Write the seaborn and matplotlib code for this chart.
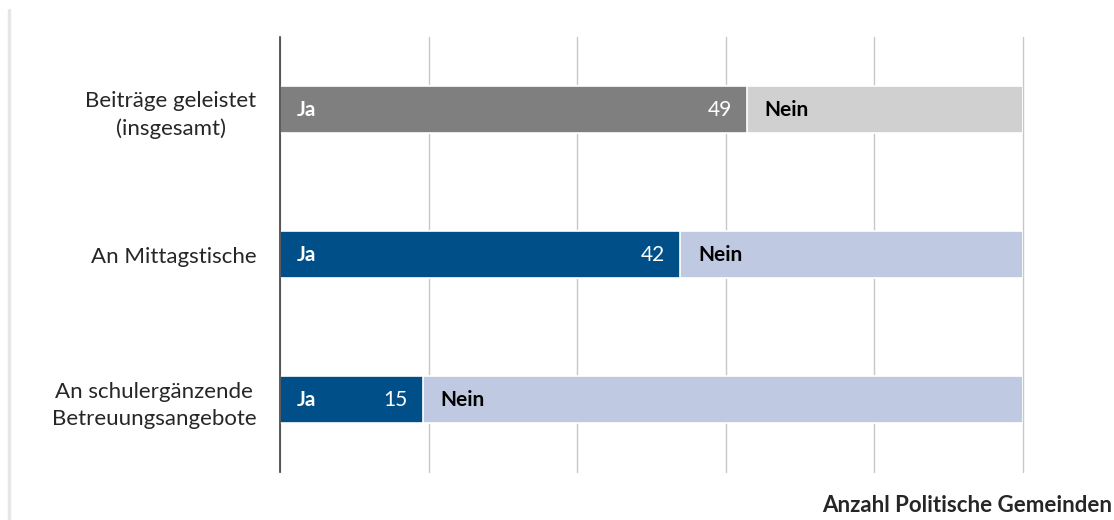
import numpy as np
import pandas as pd
import matplotlib
matplotlib.use('Agg')
import matplotlib.pyplot as plt
import seaborn as sns
from matplotlib.lines import Line2D

# data
categories = ['Beiträge geleistet\n(insgesamt)', 'An Mittagstische', 'An schulergänzende\nBetreuungsangebote']
ja_values = [49, 42, 15]
nein_values = [29, 36, 63]
ja_colors = ['#7F7F7F', '#004F88', '#004F88']
nein_colors = ['#D0D0D0', '#BFCAE2', '#BFCAE2']
x_label = 'Anzahl Politische Gemeinden'

sns.set_style('white')
plt.rcParams['font.family'] = ['Lato', 'DejaVu Sans']

df = pd.DataFrame({'cat': categories, 'ja': ja_values, 'nein': nein_values})
df['total'] = df['ja'] + df['nein']
x_max = df['total'].max()

fig = plt.figure(figsize=(11.14, 5.2), dpi=100)
ax = fig.add_axes([0.2513, 0.0923, 0.6670, 0.8365])

# grid first so the bars sit over it
for gx in np.linspace(0, x_max, 6):
    ax.axvline(gx, color='#C8C8C8', lw=1, zorder=0, clip_on=False)

# Nein as the full-length bar, Ja drawn on top
sns.barplot(data=df, y='cat', x='total', hue='cat', palette=nein_colors, legend=False,
            saturation=1, width=0.33, edgecolor='white', linewidth=1.2, orient='h',
            ax=ax, zorder=2)
sns.barplot(data=df, y='cat', x='ja', hue='cat', palette=ja_colors, legend=False,
            saturation=1, width=0.33, edgecolor='white', linewidth=1.2, orient='h',
            ax=ax, zorder=3)

ax.set_xlim(0, x_max)
ax.set_ylim(2.5, -0.5)
ax.set_xticks([])
ax.set_xlabel('')
ax.set_ylabel('')
ax.tick_params(axis='y', length=0, pad=17, labelsize=16)
for lbl in ax.get_yticklabels():
    lbl.set_horizontalalignment('right')
    lbl.set_multialignment('center')
    lbl.set_linespacing(1.45)
for side in ['top', 'right', 'bottom']:
    ax.spines[side].set_visible(False)
ax.spines['left'].set_color('#404040')
ax.spines['left'].set_linewidth(1.2)
ax.spines['left'].set_zorder(6)

# px -> data conversion for offsets
px = x_max / (0.6670 * 1114)
for i, (ja, nein) in enumerate(zip(ja_values, nein_values)):
    ax.text(17 * px, i, 'Ja', color='white', fontweight='bold', fontsize=15,
            va='center', ha='left', zorder=5)
    ax.text(ja - 15 * px, i, str(ja), color='white', fontsize=15,
            va='center', ha='right', zorder=5)
    ax.text(ja + 18 * px, i, 'Nein', color='black', fontweight='bold', fontsize=15,
            va='center', ha='left', zorder=5)

fig.text(0.998, 0.028, x_label, ha='right', va='center', fontweight='bold', fontsize=16)

# light border line at the left edge
fig.add_artist(Line2D([9 / 1114, 9 / 1114], [0, 1 - 10 / 520], transform=fig.transFigure,
                      color='#E6E6E6', lw=2.5))

fig.savefig('out.png', dpi=100)
